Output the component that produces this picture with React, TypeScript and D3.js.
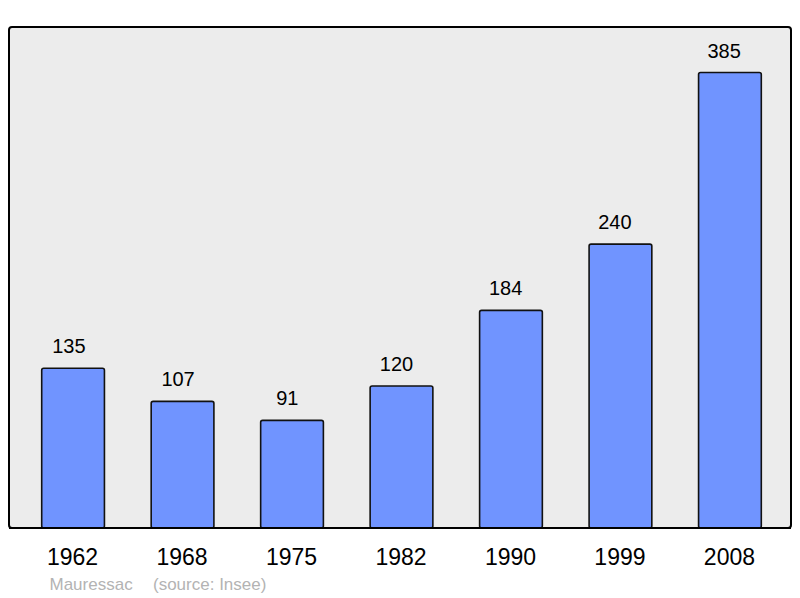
import React from "react";
import * as d3 from "d3";

const years = ["1962", "1968", "1975", "1982", "1990", "1999", "2008"];
const population = [135, 107, 91, 120, 184, 240, 385];
const townName = "Mauressac";
const sourceText = "(source: Insee)";

export default function App() {
  const width = 800;
  const height = 598;
  const frame = { left: 9, top: 27, right: 791, bottom: 528 };

  const x = d3
    .scaleBand<string>()
    .domain(years)
    .range([41.7, 761.3])
    .paddingInner(0.427)
    .paddingOuter(0);

  const y = d3
    .scaleLinear()
    .domain([0, d3.max(population)! * 1.1])
    .range([frame.bottom, frame.top]);

  const font = "'Liberation Sans', Arial, sans-serif";

  return (
    <svg
      width={width}
      height={height}
      style={{ position: "absolute", left: 0, top: 0 }}
      fontFamily={font}
    >
      <rect width={width} height={height} fill="#ffffff" />
      <rect
        x={frame.left}
        y={frame.top}
        width={frame.right - frame.left}
        height={frame.bottom - frame.top}
        rx={3}
        fill="#ececec"
        stroke="#000"
        strokeWidth={2}
      />
      {years.map((yr, i) => {
        const cx = x(yr)! + x.bandwidth() / 2;
        return (
          <g key={yr}>
            <rect
              x={x(yr)}
              y={y(population[i])}
              width={x.bandwidth()}
              height={frame.bottom - y(population[i])}
              rx={2}
              fill="#7094ff"
              stroke="#111"
              strokeWidth={1.6}
            />
            {/* value labels sit slightly left of the bar centre in the source */}
            <text
              x={cx - 4.2 - i * 0.27}
              y={y(population[i]) - 15}
              textAnchor="middle"
              fontSize={20}
              fill="#000"
            >
              {population[i]}
            </text>
            <text
              x={cx - 0.5}
              y={565}
              textAnchor="middle"
              fontSize={23}
              fill="#000"
            >
              {yr}
            </text>
          </g>
        );
      })}
      <line
        x1={frame.left}
        x2={frame.right}
        y1={frame.bottom}
        y2={frame.bottom}
        stroke="#000"
        strokeWidth={2}
      />
      <text x={49.5} y={589.5} fontSize={17} fill="#b3b3b3">
        {townName}
      </text>
      <text x={153} y={589.5} fontSize={17} fill="#b3b3b3">
        {sourceText}
      </text>
    </svg>
  );
}
